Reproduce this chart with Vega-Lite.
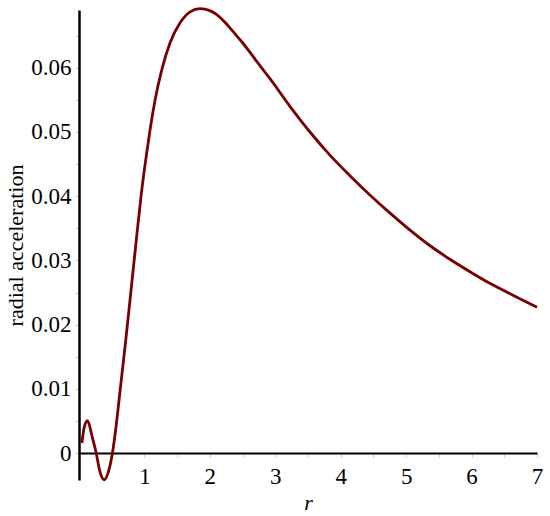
{
  "$schema": "https://vega.github.io/schema/vega-lite/v6.json",
  "width": 458,
  "height": 470,
  "autosize": "none",
  "padding": {"left": 79, "top": 10, "right": 13, "bottom": 36},
  "background": "white",
  "config": {"view": {"stroke": null}},
  "data": {
    "values": [
      {"r": 0.044, "a": 0.00156},
      {"r": 0.08, "a": 0.0040},
      {"r": 0.13, "a": 0.00503},
      {"r": 0.2, "a": 0.0026},
      {"r": 0.263, "a": 0.0},
      {"r": 0.32, "a": -0.0029},
      {"r": 0.385, "a": -0.00416},
      {"r": 0.45, "a": -0.0029},
      {"r": 0.511, "a": 0.0},
      {"r": 0.579, "a": 0.0052},
      {"r": 0.62, "a": 0.0090},
      {"r": 0.716, "a": 0.0177},
      {"r": 0.8, "a": 0.0258},
      {"r": 0.878, "a": 0.0334},
      {"r": 0.954, "a": 0.0405},
      {"r": 1.03, "a": 0.0464},
      {"r": 1.087, "a": 0.0504},
      {"r": 1.163, "a": 0.0550},
      {"r": 1.266, "a": 0.0597},
      {"r": 1.392, "a": 0.0639},
      {"r": 1.545, "a": 0.0670},
      {"r": 1.698, "a": 0.0687},
      {"r": 1.85, "a": 0.0692},
      {"r": 2.0, "a": 0.0689},
      {"r": 2.1, "a": 0.0683},
      {"r": 2.2, "a": 0.0674},
      {"r": 2.3, "a": 0.0663},
      {"r": 2.4, "a": 0.0651},
      {"r": 2.5, "a": 0.0639},
      {"r": 2.614, "a": 0.0624},
      {"r": 2.76, "a": 0.0604},
      {"r": 2.919, "a": 0.0583},
      {"r": 3.224, "a": 0.0540},
      {"r": 3.53, "a": 0.0500},
      {"r": 3.835, "a": 0.0464},
      {"r": 4.141, "a": 0.0432},
      {"r": 4.446, "a": 0.0402},
      {"r": 4.75, "a": 0.0374},
      {"r": 5.05, "a": 0.0348},
      {"r": 5.35, "a": 0.0324},
      {"r": 5.65, "a": 0.0303},
      {"r": 5.95, "a": 0.0284},
      {"r": 6.25, "a": 0.0266},
      {"r": 6.55, "a": 0.0250},
      {"r": 6.8, "a": 0.0237},
      {"r": 7.0, "a": 0.0227}
    ]
  },
  "mark": {"type": "line", "color": "#780000", "strokeWidth": 2.8, "interpolate": "monotone", "clip": false},
  "encoding": {
    "x": {
      "field": "r",
      "type": "quantitative",
      "scale": {"domain": [0, 7], "nice": false, "zero": false},
      "axis": {
        "title": "r",
        "titleFont": "Liberation Serif",
        "titleFontSize": 22,
        "titleFontStyle": "italic",
        "titleFontWeight": "normal",
        "titleColor": "black",
        "titleBaseline": "alphabetic",
        "titlePadding": 21,
        "offset": -27,
        "values": [0.5, 1, 1.5, 2, 2.5, 3, 3.5, 4, 4.5, 5, 5.5, 6, 6.5, 7],
        "labelExpr": "datum.value % 1 == 0 ? format(datum.value, 'd') : ''",
        "labelFont": "Liberation Serif",
        "labelFontSize": 23,
        "labelColor": "black",
        "labelPadding": 8,
        "labelFlush": false,
        "labelOverlap": false,
        "domainColor": "black",
        "domainWidth": 2,
        "tickColor": "#c8c8c8",
        "tickSize": 4,
        "tickWidth": 1,
        "grid": false
      }
    },
    "y": {
      "field": "a",
      "type": "quantitative",
      "scale": {"domain": [-0.0042, 0.069], "nice": false, "zero": false},
      "axis": {
        "title": "radial acceleration",
        "titleFont": "Liberation Serif",
        "titleFontSize": 22,
        "titleFontWeight": "normal",
        "titleColor": "black",
        "titlePadding": 3,
        "values": [0, 0.005, 0.01, 0.015, 0.02, 0.025, 0.03, 0.035, 0.04, 0.045, 0.05, 0.055, 0.06, 0.065],
        "labelExpr": "abs(datum.value * 100 - round(datum.value * 100)) < 0.001 ? format(datum.value, '.2~f') : ''",
        "labelFont": "Liberation Serif",
        "labelFontSize": 23,
        "labelColor": "black",
        "labelPadding": 4,
        "labelFlush": false,
        "labelOverlap": false,
        "domainColor": "black",
        "domainWidth": 2.5,
        "tickColor": "#c8c8c8",
        "tickSize": 4,
        "tickWidth": 1,
        "grid": false
      }
    }
  }
}
